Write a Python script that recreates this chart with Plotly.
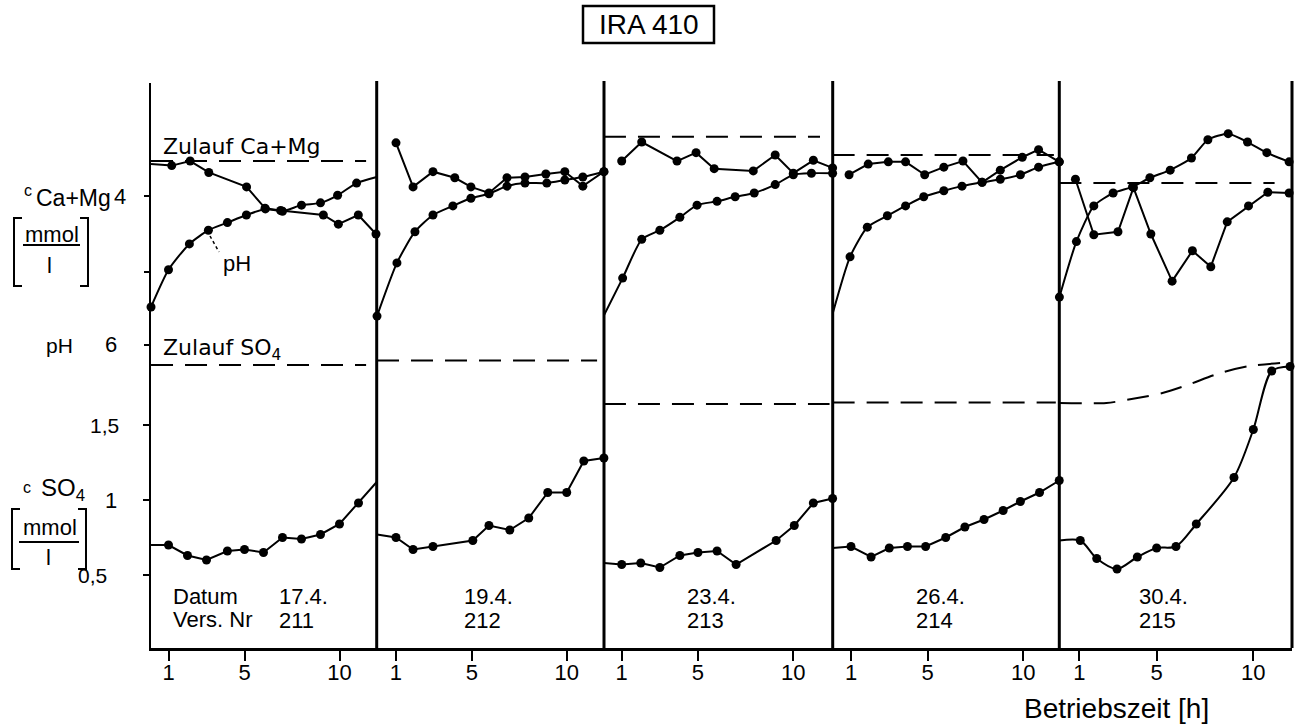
import plotly.graph_objects as go

# ---------------- data ----------------
vers_nr = ["211", "212", "213", "214", "215"]
datum = ["17.4.", "19.4.", "23.4.", "26.4.", "30.4."]
x_ticks = [1, 5, 10]
x_ticktext = ["1", "5", "10"]

# c SO4 [mmol/l]  (first point = line start at the panel edge, no dot)
so4_211_h = [0.08, 1, 2, 3, 4.1, 5, 6, 7, 8, 9, 10, 11, 11.96]
so4_211 = [0.70, 0.70, 0.63, 0.60, 0.66, 0.67, 0.65, 0.75, 0.74, 0.77, 0.84, 0.98, 1.12]
so4_212_h = [0.0, 1.0, 1.9, 2.95, 5.05, 5.9, 7.0, 8.0, 9.0, 10.0, 10.9, 11.96]
so4_212 = [0.77, 0.75, 0.67, 0.69, 0.73, 0.83, 0.80, 0.88, 1.05, 1.05, 1.26, 1.28]
so4_213_h = [0.07, 1.0, 2.0, 3.0, 4.05, 5.0, 6.0, 7.0, 9.1, 10.05, 11.05, 12.06]
so4_213 = [0.58, 0.57, 0.58, 0.55, 0.63, 0.65, 0.66, 0.57, 0.73, 0.83, 0.98, 1.01]
so4_214_h = [0.04, 1.0, 2.05, 3.0, 3.95, 4.9, 5.95, 6.95, 7.95, 8.95, 9.85, 10.85, 11.88]
so4_214 = [0.68, 0.69, 0.62, 0.68, 0.69, 0.69, 0.75, 0.82, 0.87, 0.93, 0.99, 1.05, 1.13]
so4_215_h = [-0.03, 1.05, 1.9, 2.95, 4.0, 5.0, 6.0, 7.05, 9.0, 10.0, 10.95, 11.9]
so4_215 = [0.73, 0.73, 0.61, 0.54, 0.62, 0.68, 0.69, 0.84, 1.15, 1.47, 1.86, 1.89]

# c Ca+Mg [mmol/l]
camg_211_h = [0.08, 1.17, 2.14, 3.12, 5.11, 6.08, 6.9, 9.15, 9.94, 10.99, 11.92]
camg_211 = [4.42, 4.40, 4.46, 4.31, 4.12, 3.84, 3.81, 3.75, 3.63, 3.75, 3.50]
camg_212_h = [1.0, 1.9, 2.95, 4.1, 4.95, 5.9, 6.85, 7.8, 8.9, 9.9, 10.85, 11.96]
camg_212 = [4.70, 4.12, 4.32, 4.24, 4.12, 4.04, 4.24, 4.25, 4.29, 4.32, 4.13, 4.32]
camg_213_h = [1.0, 2.05, 3.9, 4.9, 5.85, 7.9, 9.05, 10.0, 11.05, 12.06]
camg_213 = [4.46, 4.71, 4.46, 4.57, 4.36, 4.33, 4.54, 4.30, 4.47, 4.37]
camg_214_h = [0.9, 1.9, 2.95, 3.85, 4.85, 5.85, 6.85, 7.85, 8.8, 9.95, 10.8, 11.88]
camg_214 = [4.28, 4.42, 4.45, 4.45, 4.28, 4.38, 4.46, 4.18, 4.34, 4.51, 4.61, 4.45]
camg_215_h = [0.8, 1.75, 3.0, 3.8, 4.7, 5.8, 6.85, 7.8, 8.65, 9.75, 10.75, 11.85]
camg_215 = [4.22, 3.49, 3.53, 4.11, 3.50, 2.88, 3.28, 3.07, 3.66, 3.87, 4.05, 4.04]

# pH
ph_211_h = [0.08, 1.0, 2.1, 3.1, 4.1, 5.1, 6.1, 7.0, 8.0, 9.0, 9.9, 10.9, 11.96]
ph_211 = [6.50, 6.99, 7.33, 7.51, 7.61, 7.71, 7.79, 7.76, 7.84, 7.87, 7.97, 8.13, 8.21]
ph_212_h = [0.0, 1.05, 2.0, 2.95, 4.0, 4.95, 5.9, 6.85, 7.8, 8.95, 9.9, 10.85, 11.96]
ph_212 = [6.38, 7.08, 7.49, 7.71, 7.83, 7.93, 7.99, 8.09, 8.13, 8.13, 8.17, 8.21, 8.28]
ph_213_h = [0.07, 1.05, 2.05, 3.0, 4.05, 4.95, 6.0, 6.95, 7.95, 9.05, 10.0, 10.95, 12.06]
ph_213 = [6.39, 6.88, 7.39, 7.51, 7.68, 7.84, 7.89, 7.95, 8.00, 8.11, 8.24, 8.26, 8.26]
ph_214_h = [0.04, 0.95, 1.85, 2.9, 3.85, 4.8, 5.85, 6.8, 7.85, 8.8, 9.85, 10.8, 11.88]
ph_214 = [6.41, 7.16, 7.55, 7.70, 7.83, 7.95, 8.03, 8.09, 8.14, 8.18, 8.24, 8.34, 8.41]
ph_215_h = [-0.03, 0.85, 1.75, 2.75, 3.75, 4.65, 5.7, 6.8, 7.65, 8.7, 9.7, 10.7, 11.85]
ph_215 = [6.63, 7.36, 7.83, 8.00, 8.08, 8.20, 8.30, 8.46, 8.70, 8.78, 8.67, 8.53, 8.41]

# Zulauf (feed) levels
zul_camg_h = [[0.08, 11.4], None, [0.07, 11.4], [0.04, 11.6], [-0.03, 11.1]]
zul_camg = [4.46, None, 4.78, 4.54, 4.17]
zul_so4_h = [[0.08, 11.4], [0.0, 11.6], [0.07, 11.9], [0.04, 11.7]]
zul_so4 = [1.90, 1.93, 1.64, 1.65]
zul_so4_215_h = [-0.03, 2.4, 4.0, 5.3, 6.6, 8.3, 9.8, 11.4]
zul_so4_215 = [1.647, 1.647, 1.68, 1.713, 1.767, 1.847, 1.893, 1.913]

so4_h = [so4_211_h, so4_212_h, so4_213_h, so4_214_h, so4_215_h]
so4_v = [so4_211, so4_212, so4_213, so4_214, so4_215]
camg_h = [camg_211_h, camg_212_h, camg_213_h, camg_214_h, camg_215_h]
camg_v = [camg_211, camg_212, camg_213, camg_214, camg_215]
ph_h = [ph_211_h, ph_212_h, ph_213_h, ph_214_h, ph_215_h]
ph_v = [ph_211, ph_212, ph_213, ph_214, ph_215]

# ---------------- layout geometry ----------------
W, H = 1297, 728
ML, MR, MT, MB = 151, 5, 83, 80
PW = W - ML - MR
PH = H - MT - MB


def X(px):
    return (px - ML) / PW


def Y(py):
    return (H - MB - py) / PH


edges = [151, 376.7, 604, 832.7, 1059.3, 1292]
xranges = [[0.079, 11.958], [-0.017, 11.965], [0.072, 12.065], [0.044, 11.883], [-0.035, 12.0]]

FONT = "Liberation Sans"
BLACK = "black"
DASH = "22px,12px"
MSIZE = 9

fig = go.Figure()


def ax(i):
    return "x" if i == 0 else "x%d" % (i + 1)


def mk(size):
    return dict(color=BLACK, size=size, opacity=1, line=dict(width=0, color=BLACK))


for i in range(5):
    xa = ax(i)
    # SO4
    n = len(so4_h[i])
    fig.add_trace(go.Scatter(
        x=so4_h[i], y=so4_v[i], xaxis=xa, yaxis="y", mode="lines+markers",
        line=dict(color=BLACK, width=2, shape="spline" if i == 4 else "linear", smoothing=0.8),
        marker=mk([0] + [MSIZE] * (n - 1)), cliponaxis=False, showlegend=False))
    # Ca+Mg
    n = len(camg_h[i])
    sizes = [MSIZE] * n
    if i == 0:
        sizes[0] = 0
    fig.add_trace(go.Scatter(
        x=camg_h[i], y=camg_v[i], xaxis=xa, yaxis="y2", mode="lines+markers",
        line=dict(color=BLACK, width=2), marker=mk(sizes),
        cliponaxis=False, showlegend=False))
    # pH
    fig.add_trace(go.Scatter(
        x=ph_h[i], y=ph_v[i], xaxis=xa, yaxis="y3", mode="lines+markers",
        line=dict(color=BLACK, width=2, shape="spline", smoothing=0.6),
        marker=mk(MSIZE), cliponaxis=False, showlegend=False))
    # Zulauf Ca+Mg
    if zul_camg[i] is not None:
        fig.add_trace(go.Scatter(
            x=zul_camg_h[i], y=[zul_camg[i]] * 2, xaxis=xa, yaxis="y2", mode="lines",
            line=dict(color=BLACK, width=2, dash=DASH), showlegend=False))
    # Zulauf SO4
    if i < 4:
        fig.add_trace(go.Scatter(
            x=zul_so4_h[i], y=[zul_so4[i]] * 2, xaxis=xa, yaxis="y", mode="lines",
            line=dict(color=BLACK, width=2, dash=DASH), showlegend=False))
    else:
        fig.add_trace(go.Scatter(
            x=zul_so4_215_h, y=zul_so4_215, xaxis=xa, yaxis="y", mode="lines",
            line=dict(color=BLACK, width=2, dash=DASH, shape="spline", smoothing=0.8),
            showlegend=False))

layout = dict(
    width=W, height=H, template="none",
    margin=dict(l=ML, r=MR, t=MT, b=MB, pad=0),
    paper_bgcolor="white", plot_bgcolor="white",
    font=dict(family=FONT, color=BLACK, size=22),
    showlegend=False,
)

for i in range(5):
    key = "xaxis" if i == 0 else "xaxis%d" % (i + 1)
    layout[key] = dict(
        domain=[X(edges[i]), X(edges[i + 1])], range=xranges[i], anchor="y",
        showgrid=False, zeroline=False, showline=True, linecolor=BLACK, linewidth=3,
        ticks="outside", ticklen=10, tickwidth=2, tickcolor=BLACK,
        tickvals=x_ticks, ticktext=x_ticktext,
        tickfont=dict(family=FONT, size=22, color=BLACK), ticklabelstandoff=-7,
        fixedrange=True)

layout["yaxis"] = dict(
    domain=[0, 1], range=[0.0133, 3.78], anchor="x", showgrid=False, zeroline=False,
    showline=True, linecolor=BLACK, linewidth=2, ticks="outside", ticklen=6,
    tickwidth=2, tickcolor=BLACK, tickvals=[0.5, 1, 1.5], showticklabels=False)
layout["yaxis2"] = dict(
    range=[-1.947, 5.487], overlaying="y", anchor="x", side="left", showgrid=False,
    zeroline=False, showline=False, ticks="outside", ticklen=6, tickwidth=2,
    tickcolor=BLACK, tickvals=[3, 4], showticklabels=False)
layout["yaxis3"] = dict(
    range=[2.013, 9.447], overlaying="y", anchor="x", side="left", showgrid=False,
    zeroline=False, showline=False, ticks="outside", ticklen=6, tickwidth=2,
    tickcolor=BLACK, tickvals=[6], showticklabels=False)

shapes = []
# panel separators and right frame
for e in edges[1:]:
    shapes.append(dict(type="line", xref="paper", yref="paper", x0=X(e), x1=X(e),
                       y0=0, y1=Y(81), line=dict(color=BLACK, width=3), layer="below"))
# title box
shapes.append(dict(type="rect", xref="paper", yref="paper", x0=X(583), x1=X(714),
                   y0=Y(43), y1=Y(6), line=dict(color=BLACK, width=2.5)))


def bracket(top, bot, xl, xr):
    s = 8
    return [
        dict(type="path", xref="paper", yref="paper",
             path="M %f %f L %f %f L %f %f L %f %f" % (X(xl + s), Y(top), X(xl), Y(top), X(xl), Y(bot), X(xl + s), Y(bot)),
             line=dict(color=BLACK, width=2)),
        dict(type="path", xref="paper", yref="paper",
             path="M %f %f L %f %f L %f %f L %f %f" % (X(xr - s), Y(top), X(xr), Y(top), X(xr), Y(bot), X(xr - s), Y(bot)),
             line=dict(color=BLACK, width=2)),
    ]


shapes += bracket(218, 286, 14, 88)
shapes += bracket(509, 569, 12, 86)
shapes.append(dict(type="line", xref="paper", yref="paper", x0=X(23), x1=X(80), y0=Y(245), y1=Y(245),
                   line=dict(color=BLACK, width=2)))
shapes.append(dict(type="line", xref="paper", yref="paper", x0=X(19), x1=X(79), y0=Y(542), y1=Y(542),
                   line=dict(color=BLACK, width=2)))
# pH leader
shapes.append(dict(type="line", xref="paper", yref="paper", x0=X(210), x1=X(219), y0=Y(236), y1=Y(252),
                   line=dict(color=BLACK, width=1.5, dash="3px,3px")))
layout["shapes"] = shapes

ann = []


def txt(text, x, y, size=22, xanchor="left", yanchor="middle", xref="paper", yref="paper", family=FONT):
    ann.append(dict(text=text, x=x, y=y, xref=xref, yref=yref, xanchor=xanchor,
                    yanchor=yanchor, showarrow=False,
                    font=dict(family=family, size=size, color=BLACK)))


txt("IRA 410", X(649), Y(25), size=28, xanchor="center")
txt("Zulauf Ca+Mg", X(161), Y(146), size=22, family="DejaVu Sans")
txt("Zulauf SO<sub>4</sub>", X(161), Y(349), size=22, family="DejaVu Sans")
txt("pH", X(221), Y(263), size=22)

# left axis labels
txt("c", X(28), Y(190), size=16, xanchor="center")
txt("Ca+Mg", X(34), Y(198), size=23)
txt("4", X(128), 4, size=22, xanchor="right", yref="y2")
txt("mmol", X(52), Y(234), size=22, xanchor="center")
txt("l", X(50), Y(265), size=22, xanchor="center")
txt("pH", X(44), Y(345), size=21)
txt("6", X(119), 6, size=22, xanchor="right", yref="y3")
txt("1,5", X(121), 1.5, size=21, xanchor="right", yref="y")
txt("c", X(27), Y(487), size=16, xanchor="center")
txt("SO<sub>4</sub>", X(39), Y(490), size=24)
txt("1", X(119), 1, size=22, xanchor="right", yref="y")
txt("mmol", X(50), Y(527), size=22, xanchor="center")
txt("l", X(48), Y(557), size=22, xanchor="center")
txt("0,5", X(109), 0.5, size=21, xanchor="right", yref="y")

# panel labels
txt("Datum", X(171), Y(596), size=22)
txt("Vers. Nr", X(171), Y(619), size=22)
label_x = [277, 462, 685, 914, 1137]
for i in range(5):
    txt(datum[i], X(label_x[i]), Y(596), size=22)
    txt(vers_nr[i], X(label_x[i]), Y(620), size=22)

txt("Betriebszeit [h]", X(1022), Y(708), size=28)

layout["annotations"] = ann
fig.update_layout(**layout)
fig.write_html("out.html")
